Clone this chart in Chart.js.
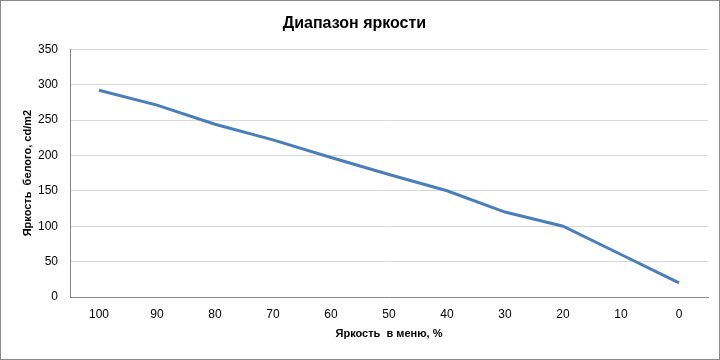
<!DOCTYPE html>
<html>
<head>
<meta charset="utf-8">
<script src="https://cdn.jsdelivr.net/npm/chart.js@4/dist/chart.umd.min.js"></script>
<style>
  html, body { margin: 0; padding: 0; background: #fff; }
  #wrap { width: 720px; height: 360px; box-sizing: border-box; border: 1px solid #888; position: relative; }
</style>
</head>
<body>
<div id="wrap"><canvas id="chart"></canvas></div>
<script>
const menuLevels = ['100', '90', '80', '70', '60', '50', '40', '30', '20', '10', '0'];
const whiteLum = [292, 271, 244, 222, 197, 173, 150, 120, 100, 60, 20];
const yTicks = [0, 50, 100, 150, 200, 250, 300, 350];

const fontFam = '"Liberation Sans", "DejaVu Sans", sans-serif';

new Chart(document.getElementById('chart'), {
    type: 'line',
    data: {
        labels: menuLevels,
        datasets: [{
            label: 'Яркость белого',
            data: whiteLum,
            borderColor: '#4a7ebb',
            borderWidth: 3,
            pointRadius: 0,
            tension: 0,
            fill: false
        }]
    },
    options: {
        responsive: true,
        maintainAspectRatio: false,
        animation: false,
        layout: { padding: { top: 0, right: 11, left: 0, bottom: 0 } },
        plugins: {
            legend: { display: false },
            tooltip: { enabled: false },
            title: {
                display: true,
                text: 'Диапазон яркости',
                color: '#000',
                font: { family: fontFam, size: 16, weight: 'bold' },
                padding: { top: 13, bottom: 16 }
            }
        },
        scales: {
            x: {
                offset: true,
                afterFit: axis => { axis.height = 62; },
                grid: { display: false, drawTicks: false },
                border: { color: '#868686', width: 1 },
                ticks: { color: '#000', font: { family: fontFam, size: 12 }, padding: 10, maxRotation: 0 },
                title: {
                    display: true,
                    text: 'Яркость  в меню, %',
                    color: '#000',
                    font: { family: fontFam, size: 11, weight: 'bold' },
                    padding: { top: 0, bottom: 18 }
                }
            },
            y: {
                min: yTicks[0],
                max: yTicks[yTicks.length - 1],
                afterBuildTicks: axis => { axis.ticks = yTicks.map(v => ({ value: v })); },
                afterFit: axis => { axis.width = 69; },
                grid: { color: '#d9d9d9', drawTicks: false },
                border: { color: '#868686', width: 1 },
                ticks: { color: '#000', font: { family: fontFam, size: 12 }, padding: 12 },
                title: {
                    display: true,
                    text: 'Яркость  белого, cd/m2',
                    color: '#000',
                    font: { family: fontFam, size: 11, weight: 'bold' },
                    padding: { top: 20, bottom: 0 }
                }
            }
        }
    }
});
</script>
</body>
</html>
